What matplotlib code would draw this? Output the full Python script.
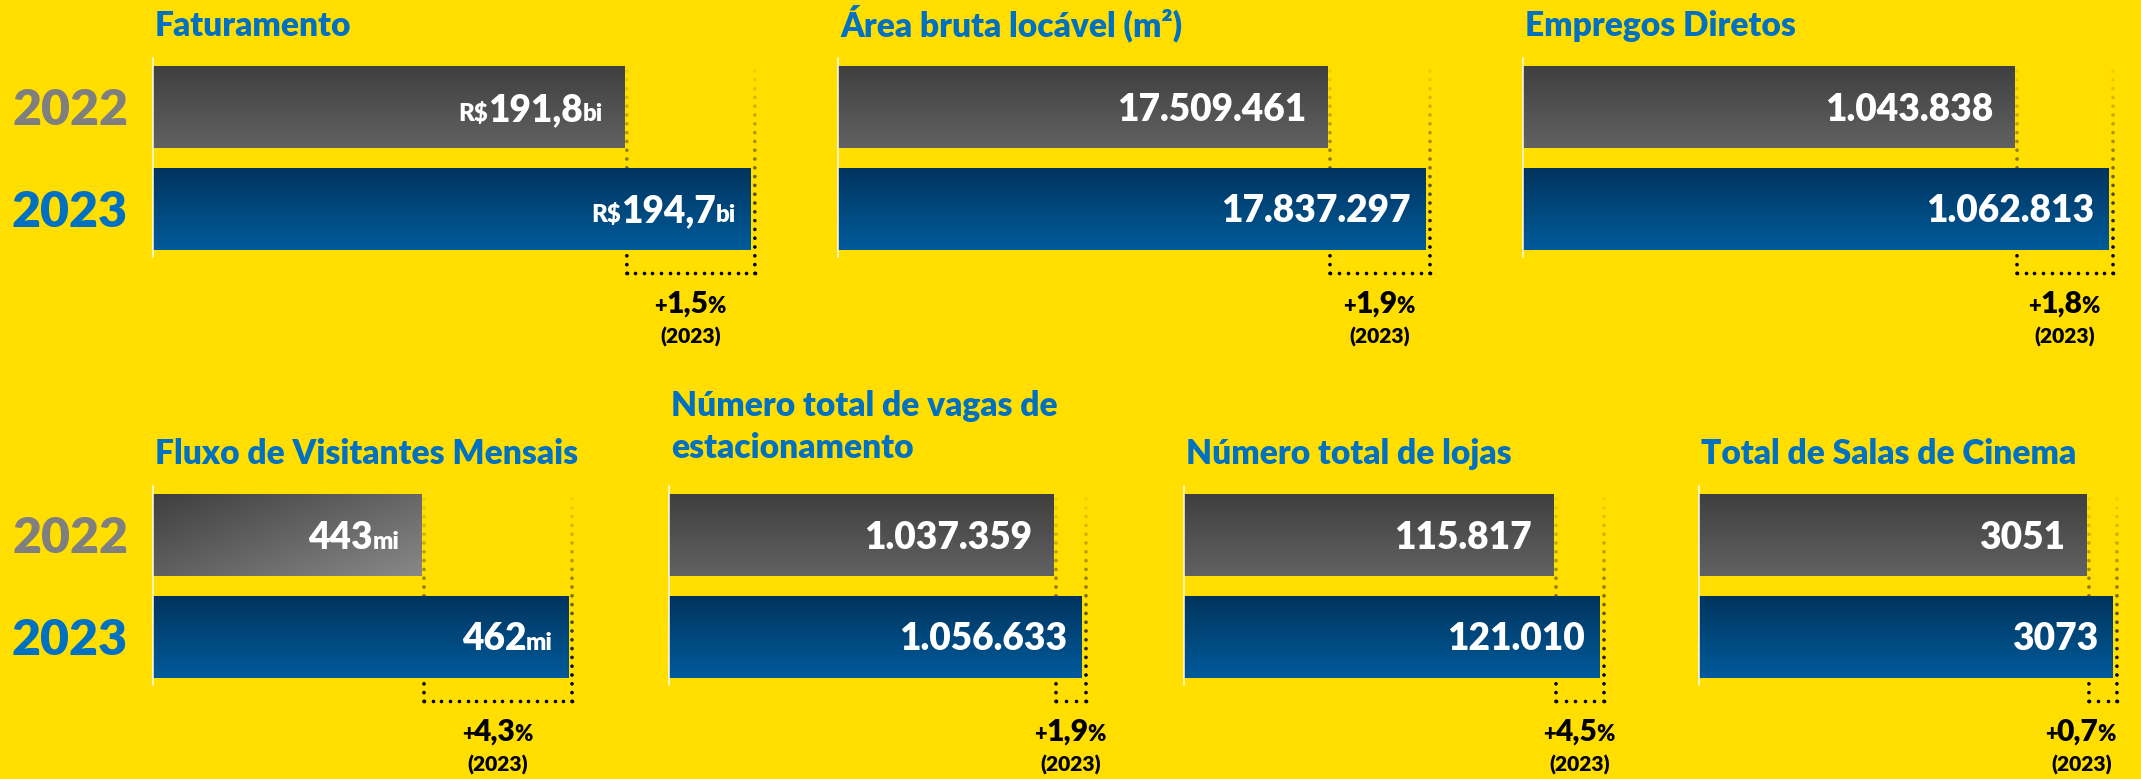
import numpy as np
import matplotlib
matplotlib.use("Agg")
import matplotlib.pyplot as plt
from matplotlib.colors import LinearSegmentedColormap

# ---------------- data ----------------
titles = ["Faturamento", "Área bruta locável (m²)", "Empregos Diretos",
          "Fluxo de Visitantes Mensais", "Número total de vagas de\nestacionamento",
          "Número total de lojas", "Total de Salas de Cinema"]
years = ["2022", "2023"]
values_2022 = [191.8, 17509461, 1043838, 443, 1037359, 115817, 3051]
values_2023 = [194.7, 17837297, 1062813, 462, 1056633, 121010, 3073]
labels_2022 = ["191,8", "17.509.461", "1.043.838", "443", "1.037.359", "115.817", "3051"]
labels_2023 = ["194,7", "17.837.297", "1.062.813", "462", "1.056.633", "121.010", "3073"]
prefixes = ["R$", "", "", "", "", "", ""]
suffixes = ["bi", "", "", "mi", "", "", ""]
growth = ["1,5", "1,9", "1,8", "4,3", "1,9", "4,5", "0,7"]
growth_year = "(2023)"

# ---------------- style / layout ----------------
FIG_W, FIG_H, DPI = 2141, 779, 72
BG = "#FFDE00"
TITLE_COLOR = "#0070C0"
YEAR_COLORS = ["#7F7F7F", "#0070C0"]
FONT = ["Lato", "DejaVu Sans"]
WEIGHT = "heavy"

panel_left = [153, 838, 1523, 153, 669, 1184, 1699]
panel_top = [50, 50, 50, 478, 478, 478, 478]
panel_width = [620, 610, 610, 435, 440, 440, 430]
panel_xlim = [(180.94, 195.21), (15.870e6, 17.911e6), (944525, 1067658),
              (408.0, 464.6), (772339, 1075223), (74047, 123720), (2722.7, 3086.6)]
title_dy = [8, 8, 8, 8, 14, 8, 8]
PANEL_H = 230
YLIM = (-0.70, 1.566)
show_years = [True, False, False, True, False, False, False]
diag_grey = [False, False, False, True, False, False, False]

BAR_H = 0.8
Y_POS = [1, 0]
BOX_BOTTOM = -0.635
DOT_PX = 8.8
DOT_D = 3.6
RIGHT_LIMIT = 2118

YEAR_SIZE = 50
VAL_BIG, VAL_SMALL = 37, 24
TITLE_SIZE = 33.5
PCT_BIG, PCT_SMALL = 30, 22
PCTY_SIZE = 21
CAP = 0.7165
PAD = [22, 15]

fig = plt.figure(figsize=(FIG_W / DPI, FIG_H / DPI), dpi=DPI, facecolor=BG)
renderer = fig.canvas.get_renderer()


def tw(s, size):
    t = fig.text(0, 0, s, fontsize=size, family=FONT, weight=WEIGHT)
    w = t.get_window_extent(renderer).width
    t.remove()
    return w


grey_cmap = LinearSegmentedColormap.from_list("g", ["#3f3f3f", "#626262"])
grey_diag_cmap = LinearSegmentedColormap.from_list("gd", ["#3f3f3f", "#888888"])
blue_cmap = LinearSegmentedColormap.from_list("b", ["#00345e", "#005b9b"])
vgrad = np.linspace(0, 1, 256).reshape(-1, 1)
gx, gy = np.meshgrid(np.linspace(0, 1, 256), np.linspace(0, 1, 64))
dgrad = 0.55 * gx + 0.45 * gy

for i in range(len(titles)):
    left, top, width = panel_left[i], panel_top[i], panel_width[i]
    ax = fig.add_axes([left / FIG_W, 1 - (top + PANEL_H) / FIG_H, width / FIG_W, PANEL_H / FIG_H])
    ax.set_facecolor("none")
    ax.axis("off")
    ax.set_xlim(*panel_xlim[i])
    ax.set_ylim(*YLIM)
    x0 = panel_xlim[i][0]
    dpx_x = (panel_xlim[i][1] - x0) / width
    dpx_y = (YLIM[1] - YLIM[0]) / PANEL_H
    vals = [values_2022[i], values_2023[i]]
    labs = [labels_2022[i], labels_2023[i]]

    # bars with gradient
    for k, (v, y) in enumerate(zip(vals, Y_POS)):
        if k == 0:
            img = dgrad if diag_grey[i] else vgrad
            cmap = grey_diag_cmap if diag_grey[i] else grey_cmap
        else:
            img, cmap = vgrad, blue_cmap
        ax.imshow(img, cmap=cmap, extent=[x0, v, y - BAR_H / 2, y + BAR_H / 2],
                  aspect="auto", origin="upper", interpolation="bilinear", zorder=3)

    # white axis line
    ax.plot([x0, x0], [-0.47, 1.49], color="white", lw=1.5, clip_on=False, zorder=4)

    # dotted bracket
    top_y = Y_POS[0] + BAR_H / 2
    lx = vals[0] + 2 * dpx_x
    rx = vals[1] + 4 * dpx_x
    ys = np.arange(BOX_BOTTOM, top_y, DOT_PX * dpx_y)
    alpha = np.clip(0.06 + 0.94 * ((top_y - ys) / (top_y + 0.35)) ** 1.3, 0, 1)
    cols = np.zeros((len(ys), 4))
    cols[:, 3] = alpha
    for xline in (lx, rx):
        ax.scatter(np.full_like(ys, xline), ys, s=DOT_D ** 2, c=cols, marker="o",
                   linewidths=0, zorder=2, clip_on=False)
    n = max(1, int(round((rx - lx) / (DOT_PX * dpx_x))))
    hx = np.linspace(lx, rx, n + 1)
    ax.scatter(hx, np.full_like(hx, BOX_BOTTOM), s=DOT_D ** 2, color="black",
               linewidths=0, zorder=2, clip_on=False)

    # value labels inside bars
    for k, (v, y) in enumerate(zip(vals, Y_POS)):
        parts = [(prefixes[i], VAL_SMALL), (labs[k], VAL_BIG), (suffixes[i], VAL_SMALL)]
        parts = [p for p in parts if p[0]]
        off = -PAD[k]
        for s, size in reversed(parts):
            ax.annotate(s, xy=(v, y), xytext=(off, -VAL_BIG * CAP / 2), textcoords="offset points",
                        ha="right", va="baseline", fontsize=size, family=FONT, weight=WEIGHT,
                        color="white", zorder=5)
            off -= tw(s, size)

    # year labels
    if show_years[i]:
        for k, y in enumerate(Y_POS):
            ax.annotate(years[k], xy=(0, y), xycoords=("axes fraction", "data"),
                        xytext=(-83, -YEAR_SIZE * CAP / 2), textcoords="offset points",
                        ha="center", va="baseline", fontsize=YEAR_SIZE, family=FONT,
                        weight=WEIGHT, color=YEAR_COLORS[k], annotation_clip=False)

    # title
    ax.annotate(titles[i], xy=(0, 1), xycoords="axes fraction", xytext=(2, title_dy[i]),
                textcoords="offset points", ha="left", va="bottom", fontsize=TITLE_SIZE,
                family=FONT, weight=WEIGHT, color=TITLE_COLOR, linespacing=1.4,
                annotation_clip=False)

    # growth label
    xc = (vals[0] + vals[1]) / 2 + 3 * dpx_x
    parts = [("+", PCT_SMALL), (growth[i], PCT_BIG), ("%", PCT_SMALL)]
    widths = [tw(s, sz) for s, sz in parts]
    total = sum(widths)
    cx_px = ax.transData.transform((xc, 0))[0]
    shift = min(0.0, RIGHT_LIMIT - (cx_px + total / 2))
    off = -total / 2 + shift
    for (s, sz), w in zip(parts, widths):
        ax.annotate(s, xy=(xc, 0), xycoords=("data", "axes fraction"), xytext=(off, -33),
                    textcoords="offset points", ha="left", va="baseline", fontsize=sz,
                    family=FONT, weight=WEIGHT, color="black", annotation_clip=False)
        off += w - 1
    ax.annotate(growth_year, xy=(xc, 0), xycoords=("data", "axes fraction"), xytext=(shift, -64),
                textcoords="offset points", ha="center", va="baseline", fontsize=PCTY_SIZE,
                family=FONT, weight=WEIGHT, color="black", annotation_clip=False)

    ax.set_xlim(*panel_xlim[i])
    ax.set_ylim(*YLIM)

fig.savefig("out.png", dpi=DPI, facecolor=BG)
